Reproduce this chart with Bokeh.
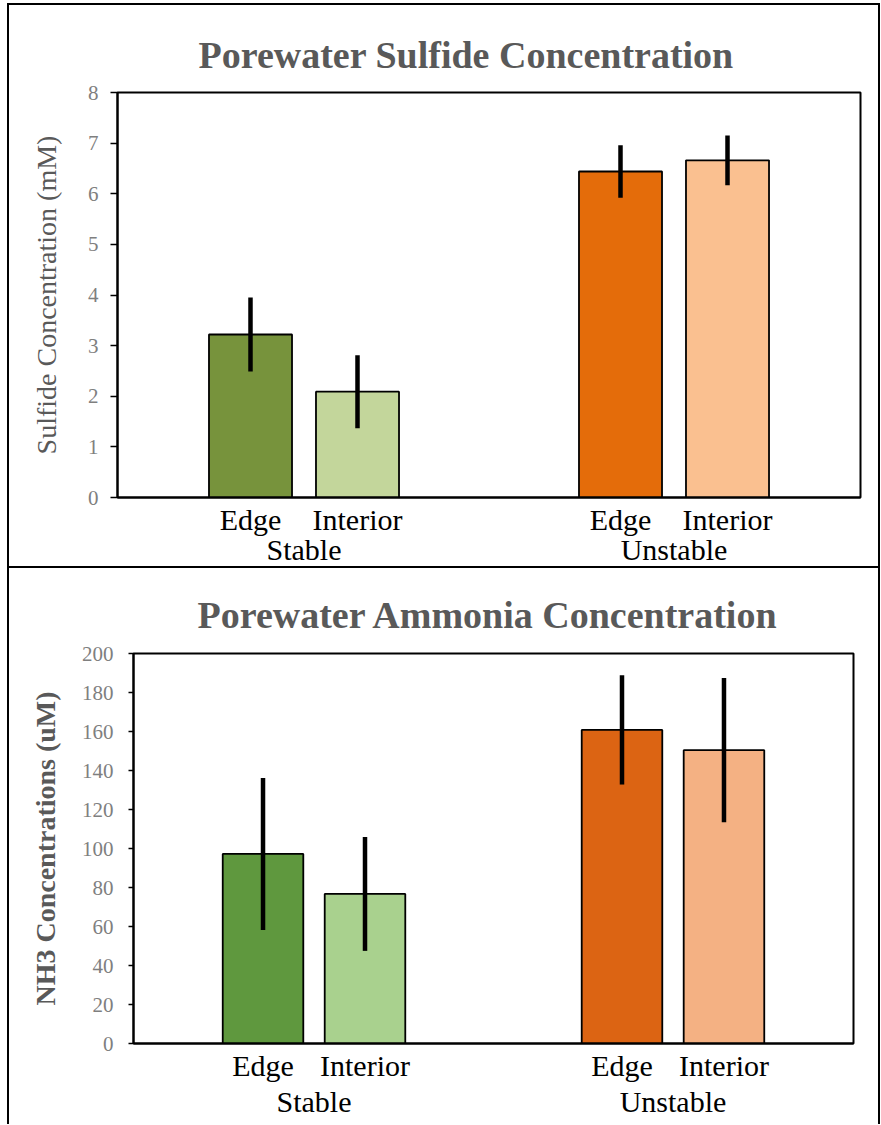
from bokeh.plotting import figure
from bokeh.models import FactorRange, Range1d, FixedTicker, ColumnDataSource, CategoricalAxis
from bokeh.embed import file_html
from bokeh.resources import INLINE

sites = ["Stable", "Stable", "Unstable", "Unstable"]
zones = ["Edge", "Interior", "Edge", "Interior"]

sulfide_mean = [3.22, 2.09, 6.44, 6.66]
sulfide_err = [0.73, 0.72, 0.52, 0.49]
sulfide_colors = ["#77933C", "#C3D69B", "#E46C0A", "#FAC090"]
sulfide_ticks = [0, 1, 2, 3, 4, 5, 6, 7, 8]

ammonia_mean = [97.2, 76.7, 160.8, 150.4]
ammonia_err = [39.0, 29.2, 28.0, 37.0]
ammonia_colors = ["#5F983E", "#A9D18E", "#DC6413", "#F4B183"]
ammonia_ticks = [0, 20, 40, 60, 80, 100, 120, 140, 160, 180, 200]

SERIF = "Liberation Serif"


def make(title, ylabel, ylabel_style, mean, err, colors, ticks, W, H,
         bl, br, bt, bb, pad, gpad, bw, tick_out, title_off, title_standoff,
         lab_standoff, axlab_standoff, sub_standoff, grp_standoff,
         styles, margin):
    factors = list(zip(sites, zones))
    xr = FactorRange(*factors, range_padding=pad,
                     range_padding_units="absolute", group_padding=gpad,
                     factor_padding=0)
    p = figure(x_range=xr, y_range=Range1d(ticks[0], ticks[-1]),
               width=W, height=H, output_backend="svg", title=title,
               toolbar_location=None, min_border_left=bl, min_border_right=br,
               min_border_top=bt, min_border_bottom=bb, margin=margin)
    p.styles = styles
    src = ColumnDataSource(dict(
        x=factors, top=mean, color=colors,
        lo=[m - e for m, e in zip(mean, err)],
        hi=[m + e for m, e in zip(mean, err)]))
    p.vbar(x="x", top="top", bottom=0, width=bw, fill_color="color",
           line_color="black", line_width=1.8, source=src)
    p.segment(x0="x", x1="x", y0="lo", y1="hi", line_color="black",
              line_width=4.5, source=src)

    t = p.title
    t.align = "left"
    t.offset = title_off
    t.text_font = SERIF
    t.text_font_size = "38px"
    t.text_font_style = "bold"
    t.text_color = "#595959"
    t.standoff = title_standoff

    p.grid.grid_line_color = None
    p.outline_line_color = "black"
    p.outline_line_width = 2
    p.background_fill_color = "white"
    p.border_fill_color = "white"

    ya = p.left[0]
    ya.ticker = FixedTicker(ticks=ticks)
    ya.axis_label = ylabel
    ya.axis_label_text_font = SERIF
    ya.axis_label_text_font_size = "28px"
    ya.axis_label_text_font_style = ylabel_style
    ya.axis_label_text_color = "#595959"
    ya.axis_label_standoff = axlab_standoff
    ya.major_label_text_font = SERIF
    ya.major_label_text_font_size = "21px"
    ya.major_label_text_color = "#7F7F7F"
    ya.major_label_standoff = lab_standoff
    ya.major_tick_in = 0
    ya.major_tick_out = tick_out
    ya.major_tick_line_color = "black"
    ya.major_tick_line_width = 1.5
    ya.minor_tick_line_color = None
    ya.axis_line_color = "black"
    ya.axis_line_width = 2

    # sub-category labels (Edge / Interior)
    xa = p.below[0]
    xa.major_tick_line_color = None
    xa.major_tick_out = 0
    xa.major_tick_in = 0
    xa.minor_tick_line_color = None
    xa.axis_line_color = "black"
    xa.axis_line_width = 2
    xa.major_label_text_font = SERIF
    xa.major_label_text_font_size = "30px"
    xa.major_label_text_color = "black"
    xa.major_label_standoff = sub_standoff
    xa.group_text_font_size = "1px"
    xa.group_text_color = None
    xa.separator_line_color = None
    xa.major_label_orientation = "horizontal"

    # group labels (Stable / Unstable) on a second axis
    ga = CategoricalAxis()
    ga.axis_line_color = None
    ga.major_tick_line_color = None
    ga.major_tick_out = 0
    ga.major_tick_in = 0
    ga.minor_tick_line_color = None
    ga.major_label_text_font_size = "1px"
    ga.major_label_text_color = None
    ga.major_label_standoff = grp_standoff
    ga.group_text_font = SERIF
    ga.group_text_font_size = "30px"
    ga.group_text_font_style = "normal"
    ga.group_text_color = "black"
    ga.separator_line_color = None
    ga.group_label_orientation = "horizontal"
    p.add_layout(ga, "below")
    return p


p1 = make("Porewater Sulfide Concentration", "Sulfide Concentration (mM)",
          "normal", sulfide_mean, sulfide_err, sulfide_colors, sulfide_ticks,
          873, 565, 108, 22, 87, 73, 0.743, 1.458, 0.776, 7, 81, 34,
          12, 23, 5, -6,
          {"border": "2px solid black"}, (3, 0, 0, 7))
p2 = make("Porewater Ammonia Concentration", "NH3 Concentrations (uM)",
          "bold", ammonia_mean, ammonia_err, ammonia_colors, ammonia_ticks,
          873, 556, 124, 29, 85, 81, 0.77, 1.52, 0.79, 5, 64, 36,
          15, 18, 5, 0,
          {"border-left": "2px solid black", "border-right": "2px solid black"},
          (0, 0, 0, 7))

open("out.html", "w").write(file_html([p1, p2], INLINE))
